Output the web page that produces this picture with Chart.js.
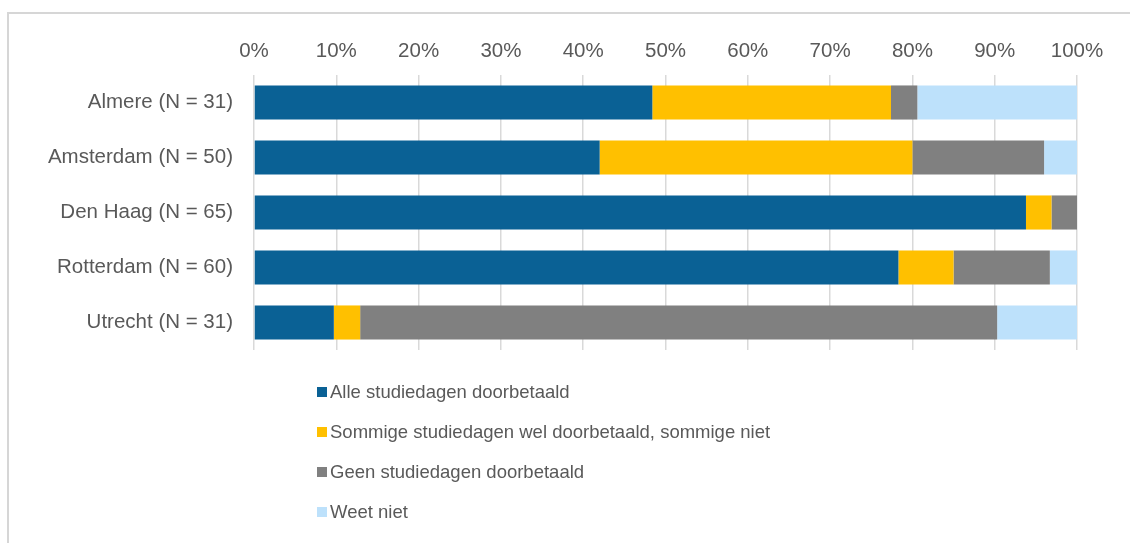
<!DOCTYPE html>
<html>
<head>
<meta charset="utf-8">
<script src="https://cdn.jsdelivr.net/npm/chart.js@4/dist/chart.umd.min.js"></script>
<style>
  html, body { margin:0; padding:0; background:#fff; }
  #wrap { position:relative; width:1130px; height:543px; overflow:hidden; }
  #frame { position:absolute; left:7px; top:12px; right:0; bottom:0; border-top:2px solid #d6d6d6; border-left:2px solid #d6d6d6; }
  #chart { position:absolute; left:0; top:0; }
</style>
</head>
<body>
<div id="wrap">
  <div id="frame"></div>
  <canvas id="chart" width="1130" height="543"></canvas>
</div>
<script>
// categories (gemeenten) en aandelen in procenten
const cities = ['Almere (N = 31)', 'Amsterdam (N = 50)', 'Den Haag (N = 65)', 'Rotterdam (N = 60)', 'Utrecht (N = 31)'];
const seriesNames = [
  'Alle studiedagen doorbetaald',
  'Sommige studiedagen wel doorbetaald, sommige niet',
  'Geen studiedagen doorbetaald',
  'Weet niet'
];
const allePaid    = [48.4, 42, 93.8, 78.3, 9.7];
const sommigePaid = [29.0, 38, 3.1, 6.7, 3.2];
const geenPaid    = [3.2, 16, 3.1, 11.7, 77.4];
const weetNiet    = [19.4, 4, 0, 3.3, 9.7];
const xTicks = [0, 10, 20, 30, 40, 50, 60, 70, 80, 90, 100];

const colors = ['#0a6195', '#ffc000', '#808080', '#bde1fb'];
const TXT = '#595959';
const FONT = '"Liberation Sans", Arial, sans-serif';

// legend as a vertical list under the plot, left-aligned
const listLegend = {
  id: 'listLegend',
  afterDraw(chart){
    const ctx = chart.ctx;
    ctx.save();
    ctx.font = '18.5px ' + FONT;
    ctx.textBaseline = 'middle';
    chart.data.datasets.forEach((ds, i) => {
      const y = 392 + i * 40;
      ctx.fillStyle = ds.backgroundColor;
      ctx.fillRect(317, y - 5, 10, 10);
      ctx.fillStyle = TXT;
      ctx.fillText(ds.label, 330, y + 1);
    });
    ctx.restore();
  }
};

const values = [allePaid, sommigePaid, geenPaid, weetNiet];

new Chart(document.getElementById('chart'), {
  type: 'bar',
  data: {
    labels: cities,
    datasets: seriesNames.map((name, i) => ({
      label: name,
      data: values[i],
      backgroundColor: colors[i],
      borderWidth: 0,
      barPercentage: 0.62,
      categoryPercentage: 1
    }))
  },
  plugins: [listLegend],
  options: {
    indexAxis: 'y',
    responsive: false,
    animation: false,
    layout: { padding: { left: 0, right: 53, top: 0, bottom: 193 } },
    plugins: { legend: { display: false }, tooltip: { enabled: false } },
    scales: {
      x: {
        position: 'top',
        stacked: true,
        min: 0, max: 100,
        afterBuildTicks: s => { s.ticks = xTicks.map(v => ({ value: v })); },
        afterFit: s => { s.height = 75; },
        grid: { color: '#d9d9d9', lineWidth: 1.5, drawTicks: false },
        border: { display: false },
        ticks: { color: TXT, font: { family: FONT, size: 20.5 }, padding: 11, callback: v => v + '%' }
      },
      y: {
        stacked: true,
        afterFit: s => { s.width = 254; },
        grid: { display: false, drawTicks: false },
        border: { display: false },
        ticks: { color: TXT, font: { family: FONT, size: 20.5 }, padding: 21 }
      }
    }
  }
});
</script>
</body>
</html>
